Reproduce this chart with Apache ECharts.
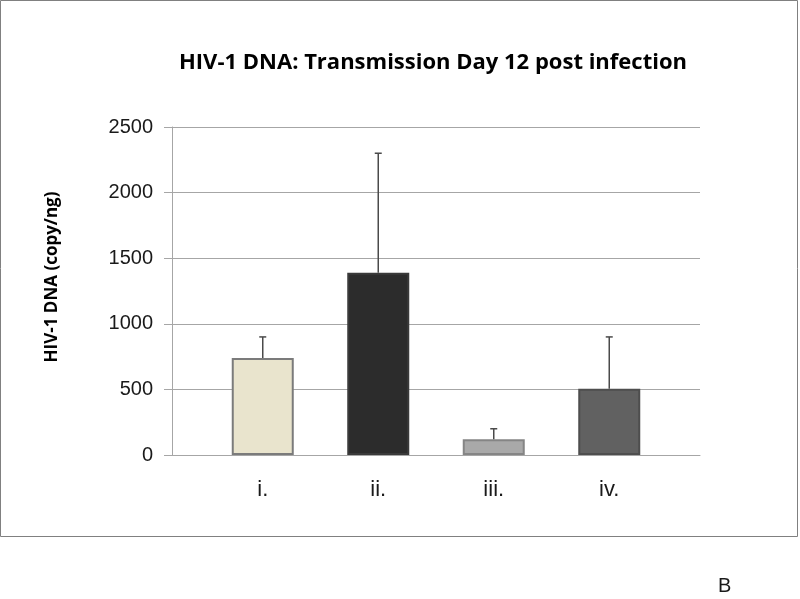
<!DOCTYPE html>
<html>
<head>
<meta charset="utf-8">
<script src="https://cdn.jsdelivr.net/npm/echarts@6/dist/echarts.min.js"></script>
<style>
html,body{margin:0;padding:0;background:#fff;}
#chart{width:800px;height:599px;}
</style>
</head>
<body>
<div id="chart"></div>
<script>
const titleText = 'HIV-1 DNA: Transmission Day 12 post infection';
const yAxisTitle = 'HIV-1 DNA (copy/ng)';
const categories = ['i.', 'ii.', 'iii.', 'iv.'];
const values = [740, 1390, 120, 505];
const errors = [160, 910, 80, 395];
const barColors = ['#e9e4cd', '#2c2c2c', '#a9a9a9', '#616161'];
const barBorders = ['#7b7b7b', '#3a3a3a', '#858585', '#4e4e4e'];
const yMin = 0, yMax = 2500, yStep = 500;

const chart = echarts.init(document.getElementById('chart'), null, {renderer: 'canvas'});

const barData = values.map((v, i) => ({
  value: v,
  itemStyle: {
    color: {
      type: 'linear', x: 0, y: 0, x2: 0, y2: 1,
      colorStops: [
        {offset: 0, color: i === 2 ? '#d0d0d0' : barColors[i]},
        {offset: 0.04, color: barColors[i]},
        {offset: 1, color: barColors[i]}
      ]
    },
    borderColor: barBorders[i],
    borderWidth: 2
  }
}));
const errData = values.map((v, i) => [i, v, v + errors[i]]);

const option = {
  animation: false,
  backgroundColor: '#fff',
  title: {
    text: titleText,
    left: 428,
    top: 47,
    textAlign: 'center',
    textStyle: {fontFamily: 'Open Sans', fontWeight: 'bold', fontSize: 22, color: '#000'}
  },
  grid: [
    {left: 172, right: 100, top: 127, bottom: 144},
    {left: 205, width: 462, top: 127, bottom: 144}
  ],
  xAxis: [
    {
      gridIndex: 0, type: 'category', data: [''],
      axisLine: {show: true, lineStyle: {color: '#a6a6a6', width: 1}},
      axisTick: {show: false}, axisLabel: {show: false}
    },
    {
      gridIndex: 1, type: 'category', data: categories,
      axisLine: {show: false}, axisTick: {show: false},
      axisLabel: {margin: 24, fontFamily: 'Liberation Sans', fontSize: 22, color: '#1a1a1a'}
    }
  ],
  yAxis: [
    {
      gridIndex: 0, type: 'value', min: yMin, max: yMax, interval: yStep,
      name: yAxisTitle, nameLocation: 'middle', nameRotate: 90, nameGap: 111,
      nameTextStyle: {fontFamily: 'Open Sans', fontWeight: 'bold', fontSize: 17, color: '#000',
        padding: [0, 0, 0, 28]},
      axisLine: {show: true, lineStyle: {color: '#a6a6a6'}},
      axisTick: {show: true, length: 8, lineStyle: {color: '#a6a6a6'}},
      axisLabel: {margin: 19, fontFamily: 'Liberation Sans', fontSize: 20, color: '#1a1a1a',
        formatter: function (v) { return String(v); }},
      splitLine: {show: true, lineStyle: {color: '#a6a6a6', width: 1}}
    },
    {
      gridIndex: 1, type: 'value', min: yMin, max: yMax, interval: yStep,
      show: false, splitLine: {show: false}
    }
  ],
  series: [
    {
      type: 'bar', xAxisIndex: 1, yAxisIndex: 1,
      data: barData, barWidth: 62, z: 3
    },
    {
      type: 'custom', xAxisIndex: 1, yAxisIndex: 1, z: 4,
      data: errData,
      renderItem: function (params, api) {
        const base = api.coord([api.value(0), api.value(1)]);
        const top = api.coord([api.value(0), api.value(2)]);
        const c = '#4a4a4a';
        return {
          type: 'group',
          children: [
            {type: 'line', shape: {x1: base[0], y1: base[1], x2: top[0], y2: top[1]}, style: {stroke: c, lineWidth: 1.5}},
            {type: 'line', shape: {x1: top[0] - 3.5, y1: top[1], x2: top[0] + 3.5, y2: top[1]}, style: {stroke: c, lineWidth: 1.5}}
          ]
        };
      }
    }
  ],
  graphic: [
    {type: 'rect', shape: {x: 0.5, y: 0.5, width: 797, height: 536}, style: {fill: null, stroke: '#808080', lineWidth: 1}, z: -1},
    {type: 'text', left: 718, top: 576, style: {text: 'B', fontFamily: 'Liberation Sans', fontSize: 20, fill: '#1a1a1a'}}
  ]
};
chart.setOption(option);
</script>
</body>
</html>
